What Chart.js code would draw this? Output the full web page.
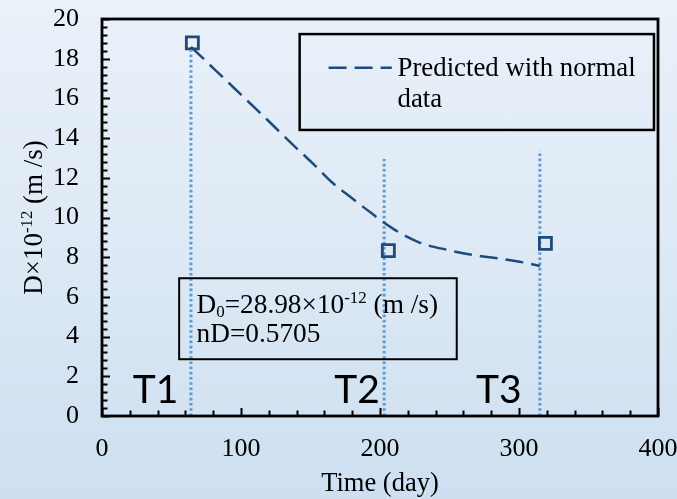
<!DOCTYPE html>
<html>
<head>
<meta charset="utf-8">
<script src="https://cdn.jsdelivr.net/npm/chart.js@4/dist/chart.umd.min.js"></script>
<style>
    html, body {
        margin: 0;
        padding: 0;
    }
    #wrap {
        width: 677px;
        height: 499px;
        background: linear-gradient(to bottom, #eaf1f9 0%, #dde9f5 50%, #cddff1 100%);
    }
</style>
</head>
<body>
<div id="wrap"><canvas id="diffChart" width="677" height="499"></canvas></div>
<script>
    // measured diffusion coefficients (x10^-12 m/s)
    var sampleDays = [65, 206, 319];
    var sampleD = [18.8, 8.33, 8.7];

    // predicted curve with normal data
    var predDays = [64, 80, 100, 120, 135, 152, 165, 179, 194, 209, 228, 249, 267, 285, 303, 315];
    var predD = [18.6, 17.53, 16.19, 14.85, 13.82, 12.7, 11.8, 11.02, 10.21, 9.45, 8.75, 8.36, 8.11, 7.94, 7.74, 7.56];

    // stage boundaries T1 / T2 / T3
    var stageDays = [64, 203, 315];
    var stageTops = [18.4, 12.95, 13.37];
    var stageNames = ['T1', 'T2', 'T3'];
    var stageLabelDays = [38.5, 183.5, 285.5];

    var xTicks = [0, 100, 200, 300, 400];
    var yTicks = [0, 2, 4, 6, 8, 10, 12, 14, 16, 18, 20];

    var SERIF = '"Liberation Serif", "Times New Roman", serif';
    var DARK = '#1f4a7e';
    var DOTS = '#5b9bd5';

    function toPoints(xs, ys) {
        return xs.map(function (x, i) {
            return { x: x, y: ys[i] };
        });
    }

    // text with sub/superscript pieces
    function drawRich(ctx, x, y, parts, size) {
        var cx = x;
        parts.forEach(function (p) {
            var small = p.sup || p.sub;
            var s = small ? size * 0.62 : size;
            ctx.font = s + 'px ' + SERIF;
            var dy = p.sup ? -size * 0.36 : (p.sub ? size * 0.14 : 0);
            ctx.fillText(p.t, cx, y + dy);
            cx += ctx.measureText(p.t).width;
        });
        return cx - x;
    }

    function richWidth(ctx, parts, size) {
        var w = 0;
        parts.forEach(function (p) {
            var s = (p.sup || p.sub) ? size * 0.62 : size;
            ctx.font = s + 'px ' + SERIF;
            w += ctx.measureText(p.t).width;
        });
        return w;
    }

    var decorPlugin = {
        id: 'decor',
        afterDraw: function (chart) {
            var ctx = chart.ctx;
            var area = chart.chartArea;
            var xs = chart.scales.x;
            var ys = chart.scales.y;
            var i, px, py, len;

            ctx.save();
            ctx.fillStyle = '#000';
            ctx.strokeStyle = '#000';

            // inward tick marks
            ctx.lineWidth = 2;
            for (i = 0; i <= 50; i++) {
                py = Math.round(ys.getPixelForValue(i * 0.4)) + 0.5;
                len = i % 5 === 0 ? 8 : 5.5;
                ctx.beginPath();
                ctx.moveTo(area.left, py);
                ctx.lineTo(area.left + len, py);
                ctx.stroke();
            }
            for (i = 0; i <= 20; i++) {
                px = Math.round(xs.getPixelForValue(i * 20)) + 0.5;
                len = i % 5 === 0 ? 8 : 5.5;
                ctx.beginPath();
                ctx.moveTo(px, area.bottom);
                ctx.lineTo(px, area.bottom - len);
                ctx.stroke();
            }

            // plot frame
            ctx.lineWidth = 2.8;
            ctx.strokeRect(area.left, area.top, area.right - area.left, area.bottom - area.top);

            // axis titles
            ctx.textBaseline = 'alphabetic';
            ctx.textAlign = 'center';
            ctx.font = '26.5px ' + SERIF;
            ctx.fillText('Time (day)', (area.left + area.right) / 2, 491);

            var yTitle = [{ t: 'D\u00d710' }, { t: '-12', sup: true }, { t: ' (m /s)' }];
            ctx.textAlign = 'left';
            ctx.save();
            ctx.translate(41.5, (area.top + area.bottom) / 2);
            ctx.rotate(-Math.PI / 2);
            drawRich(ctx, -richWidth(ctx, yTitle, 27) / 2, 0, yTitle, 27);
            ctx.restore();

            // legend box
            var lx0 = xs.getPixelForValue(142.2);
            var lx1 = xs.getPixelForValue(397.1);
            var ly0 = ys.getPixelForValue(19.24);
            var ly1 = ys.getPixelForValue(14.41);
            ctx.lineWidth = 2.5;
            ctx.strokeRect(lx0, ly0, lx1 - lx0, ly1 - ly0);
            ctx.save();
            ctx.strokeStyle = DARK;
            ctx.lineWidth = 2.5;
            ctx.setLineDash([18, 8]);
            ctx.beginPath();
            ctx.moveTo(xs.getPixelForValue(163), ys.getPixelForValue(17.55));
            ctx.lineTo(xs.getPixelForValue(208.5), ys.getPixelForValue(17.55));
            ctx.stroke();
            ctx.restore();
            ctx.font = '26.8px ' + SERIF;
            ctx.fillText('Predicted with normal', xs.getPixelForValue(212.6), ys.getPixelForValue(17.13));
            ctx.fillText('data', xs.getPixelForValue(212.6), ys.getPixelForValue(15.59));

            // fitted parameters box
            var bx0 = xs.getPixelForValue(55.5);
            var bx1 = xs.getPixelForValue(255.2);
            var by0 = ys.getPixelForValue(6.94);
            var by1 = ys.getPixelForValue(2.86);
            ctx.lineWidth = 2;
            ctx.strokeRect(bx0, by0, bx1 - bx0, by1 - by0);
            var tx = xs.getPixelForValue(68);
            drawRich(ctx, tx, ys.getPixelForValue(5.19), [
                { t: 'D' }, { t: '0', sub: true }, { t: '=28.98\u00d710' }, { t: '-12', sup: true }, { t: ' (m /s)' }
            ], 27.3);
            drawRich(ctx, tx, ys.getPixelForValue(3.74), [{ t: 'nD=0.5705' }], 27.3);

            // stage labels
            ctx.textAlign = 'center';
            ctx.font = '39px Lato, "Open Sans", sans-serif';
            stageNames.forEach(function (name, k) {
                ctx.fillText(name, xs.getPixelForValue(stageLabelDays[k]), ys.getPixelForValue(0.68));
            });

            ctx.restore();
        }
    };

    var stageSets = stageDays.map(function (d, k) {
        return {
            label: stageNames[k],
            data: [{ x: d, y: 0 }, { x: d, y: stageTops[k] }],
            showLine: true,
            borderColor: DOTS,
            borderWidth: 3,
            borderDash: [2.6, 2.6],
            pointRadius: 0
        };
    });

    new Chart(document.getElementById('diffChart'), {
        type: 'scatter',
        data: {
            datasets: [
                {
                    label: 'Measured',
                    data: toPoints(sampleDays, sampleD),
                    pointStyle: 'rect',
                    pointRadius: 8.5,
                    borderColor: DARK,
                    borderWidth: 2.8,
                    backgroundColor: 'rgba(0,0,0,0)'
                },
                {
                    label: 'Predicted with normal data',
                    data: toPoints(predDays, predD),
                    showLine: true,
                    borderColor: DARK,
                    borderWidth: 2.5,
                    borderDash: [18, 8],
                    cubicInterpolationMode: 'monotone',
                    pointRadius: 0
                }
            ].concat(stageSets)
        },
        options: {
            responsive: false,
            animation: false,
            layout: {
                padding: { left: 0, top: 19, right: 19, bottom: 0 }
            },
            plugins: {
                legend: { display: false },
                tooltip: { enabled: false }
            },
            scales: {
                x: {
                    type: 'linear',
                    min: 0,
                    max: 400,
                    afterFit: function (scale) {
                        scale.height = 83;
                        scale.paddingLeft = 0;
                        scale.paddingRight = 0;
                    },
                    afterBuildTicks: function (scale) {
                        scale.ticks = xTicks.map(function (v) { return { value: v }; });
                    },
                    grid: { display: false, drawTicks: false, tickLength: 0 },
                    border: { display: false },
                    ticks: {
                        color: '#000',
                        padding: 18,
                        font: { family: SERIF, size: 26 }
                    }
                },
                y: {
                    type: 'linear',
                    min: 0,
                    max: 20,
                    afterFit: function (scale) {
                        scale.width = 102;
                        scale.paddingTop = 0;
                        scale.paddingBottom = 0;
                    },
                    afterBuildTicks: function (scale) {
                        scale.ticks = yTicks.map(function (v) { return { value: v }; });
                    },
                    grid: { display: false, drawTicks: false, tickLength: 0 },
                    border: { display: false },
                    ticks: {
                        color: '#000',
                        padding: 23,
                        font: { family: SERIF, size: 26 }
                    }
                }
            }
        },
        plugins: [decorPlugin]
    });
</script>
</body>
</html>
